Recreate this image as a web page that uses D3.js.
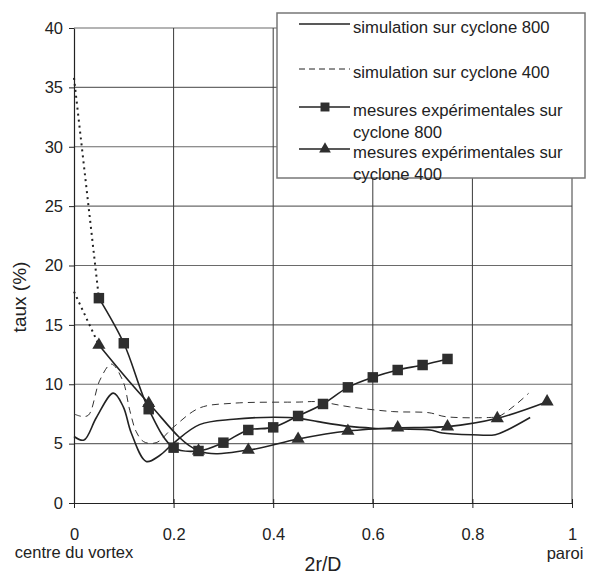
<!DOCTYPE html>
<html>
<head>
<meta charset="utf-8">
<script src="https://cdn.jsdelivr.net/npm/d3@7"></script>
<style>
  body { margin: 0; background: #fff; }
  text { font-family: "Liberation Sans", Arial, Helvetica, sans-serif; fill: #222; }
</style>
</head>
<body>
<script>
// values
const xTicks = [0, 0.2, 0.4, 0.6, 0.8, 1]
const yTicks = [0, 5, 10, 15, 20, 25, 30, 35, 40]

const sim800 = [[0, 5.6], [0.02, 5.3], [0.045, 7.2], [0.079, 9.25], [0.099, 8.1], [0.115, 5.9],
  [0.145, 3.5], [0.172, 4.0], [0.2, 5.05], [0.252, 6.6], [0.32, 7.05], [0.4, 7.22], [0.452, 7.13],
  [0.49, 6.85], [0.553, 6.45], [0.6, 6.3], [0.653, 6.23], [0.715, 6.15], [0.74, 5.9], [0.8, 5.75],
  [0.846, 5.75], [0.87, 6.15], [0.916, 7.2]]

const sim400 = [[0, 7.5], [0.015, 7.3], [0.029, 7.4], [0.052, 10.35], [0.075, 11.7], [0.098, 10.3],
  [0.112, 7.8], [0.125, 6.0], [0.14, 5.16], [0.165, 5.08], [0.2, 6.4], [0.252, 8.0], [0.319, 8.4],
  [0.452, 8.5], [0.49, 8.53], [0.553, 8.1], [0.64, 7.7], [0.713, 7.6], [0.746, 7.27], [0.833, 7.2],
  [0.853, 7.3], [0.886, 8.25], [0.913, 9.24]]

const mes800 = [[0.05, 17.25], [0.1, 13.45], [0.15, 7.9], [0.2, 4.66], [0.25, 4.38], [0.3, 5.08],
  [0.35, 6.15], [0.4, 6.37], [0.45, 7.33], [0.5, 8.34], [0.55, 9.74], [0.6, 10.58], [0.65, 11.2],
  [0.7, 11.62], [0.75, 12.13]]

const mes400 = [[0.05, 13.3], [0.15, 8.4], [0.25, 4.4], [0.35, 4.46], [0.45, 5.39], [0.55, 6.06],
  [0.65, 6.34], [0.75, 6.43], [0.85, 7.13], [0.95, 8.53]]

// dotted extrapolation towards the axis
const ext800 = [[0, 35.8], [0.05, 17.25]]
const ext400 = [[0, 17.8], [0.05, 13.3]]

const legendLabels = [
  ['simulation sur cyclone 800'],
  ['simulation sur cyclone 400'],
  ['mesures expérimentales sur', 'cyclone 800'],
  ['mesures expérimentales sur', 'cyclone 400']
]

const w = 590
const h = 575
const mLeft = 74, mRight = 572, mTop = 28, mBottom = 503

const svg = d3.select('body')
  .append('svg')
  .attr('width', w)
  .attr('height', h)

const x = d3.scaleLinear().domain([0, 1]).range([mLeft, mRight])
const y = d3.scaleLinear().domain([0, 40]).range([mBottom, mTop])

// grid
svg.append('g')
  .selectAll('line')
  .data(yTicks.filter(d => d > 0))
  .enter()
  .append('line')
  .attr('x1', mLeft).attr('x2', mRight)
  .attr('y1', d => y(d)).attr('y2', d => y(d))
  .style('stroke', '#6a6a6a')
  .style('stroke-width', 1.2)

svg.append('g')
  .selectAll('line')
  .data(xTicks.filter(d => d > 0))
  .enter()
  .append('line')
  .attr('x1', d => x(d)).attr('x2', d => x(d))
  .attr('y1', mTop).attr('y2', mBottom)
  .style('stroke', '#3a3a3a')
  .style('stroke-width', 1)

// axes
const yAxis = svg.append('g')
  .attr('transform', `translate(${mLeft},0)`)
  .call(d3.axisLeft(y).tickValues(yTicks).tickSize(5).tickPadding(6).tickSizeOuter(0))
yAxis.selectAll('text').style('font-size', '16.5px')
yAxis.select('.domain').style('stroke', '#222').style('stroke-width', 1.2)
yAxis.selectAll('.tick line').style('stroke', '#222')

const xAxis = svg.append('g')
  .attr('transform', `translate(0,${mBottom})`)
  .call(d3.axisBottom(x).tickValues(xTicks).tickFormat(d3.format('')).tickSize(5).tickPadding(20).tickSizeOuter(0))
xAxis.selectAll('text').style('font-size', '16.5px')
xAxis.select('.domain').style('stroke', '#222').style('stroke-width', 1.2)
xAxis.selectAll('.tick line').attr('y1', -4).style('stroke', '#222')

// labels
svg.append('text')
  .attr('transform', 'translate(26,297) rotate(-90)')
  .attr('text-anchor', 'middle')
  .style('font-size', '19px')
  .text('taux (%)')

svg.append('text')
  .attr('x', 323).attr('y', 571)
  .attr('text-anchor', 'middle')
  .style('font-size', '19.5px')
  .text('2r/D')

svg.append('text')
  .attr('x', 74).attr('y', 558)
  .attr('text-anchor', 'middle')
  .style('font-size', '16.5px')
  .text('centre du vortex')

svg.append('text')
  .attr('x', 565).attr('y', 559)
  .attr('text-anchor', 'middle')
  .style('font-size', '16.5px')
  .text('paroi')

// curves
const smooth = d3.line()
  .x(d => x(d[0]))
  .y(d => y(d[1]))
  .curve(d3.curveCatmullRom.alpha(0.5))

const straight = d3.line()
  .x(d => x(d[0]))
  .y(d => y(d[1]))

svg.append('path').datum(sim400).attr('d', smooth)
  .style('fill', 'none').style('stroke', '#333').style('stroke-width', 1).style('stroke-dasharray', '7,5')

svg.append('path').datum(sim800).attr('d', smooth)
  .style('fill', 'none').style('stroke', '#222').style('stroke-width', 1.6)

for (const ext of [ext800, ext400]) {
  svg.append('path').datum(ext).attr('d', straight)
    .style('fill', 'none').style('stroke', '#222').style('stroke-width', 2).style('stroke-dasharray', '2,4')
}

svg.append('path').datum(mes800).attr('d', smooth)
  .style('fill', 'none').style('stroke', '#222').style('stroke-width', 1.6)

svg.append('path').datum(mes400).attr('d', smooth)
  .style('fill', 'none').style('stroke', '#222').style('stroke-width', 1.6)

const square = d3.symbol().type(d3.symbolSquare).size(110)
const triangle = d3.symbol().type(d3.symbolTriangle).size(75)

svg.append('g')
  .selectAll('path')
  .data(mes800)
  .enter()
  .append('path')
  .attr('d', square)
  .attr('transform', d => `translate(${x(d[0])},${y(d[1])})`)
  .style('fill', '#2e2e2e')

svg.append('g')
  .selectAll('path')
  .data(mes400)
  .enter()
  .append('path')
  .attr('d', triangle)
  .attr('transform', d => `translate(${x(d[0])},${y(d[1])})`)
  .style('fill', '#2e2e2e')

// legend
const legend = svg.append('g')
legend.append('rect')
  .attr('x', 277).attr('y', 13)
  .attr('width', 308).attr('height', 165)
  .style('fill', '#fff')
  .style('stroke', '#777')
  .style('stroke-width', 1.5)

const legendY = [24, 69, 107, 149]
const legendDash = ['none', '6,4', 'none', 'none']
const legendWidth = [1.6, 1, 1.6, 1.6]

legendLabels.forEach((lines, i) => {
  legend.append('line')
    .attr('x1', 299).attr('x2', 350)
    .attr('y1', legendY[i]).attr('y2', legendY[i])
    .style('stroke', '#222')
    .style('stroke-width', legendWidth[i])
    .style('stroke-dasharray', legendDash[i])
  if (i === 2) {
    legend.append('path').attr('d', d3.symbol().type(d3.symbolSquare).size(80))
      .attr('transform', `translate(325,${legendY[i]})`).style('fill', '#2e2e2e')
  }
  if (i === 3) {
    legend.append('path').attr('d', d3.symbol().type(d3.symbolTriangle).size(60))
      .attr('transform', `translate(325,${legendY[i]})`).style('fill', '#2e2e2e')
  }
  lines.forEach((t, j) => {
    legend.append('text')
      .attr('x', 353)
      .attr('y', legendY[i] + 9 + j * 21.5)
      .style('font-size', '16.7px')
      .text(t)
  })
})
</script>
</body>
</html>
